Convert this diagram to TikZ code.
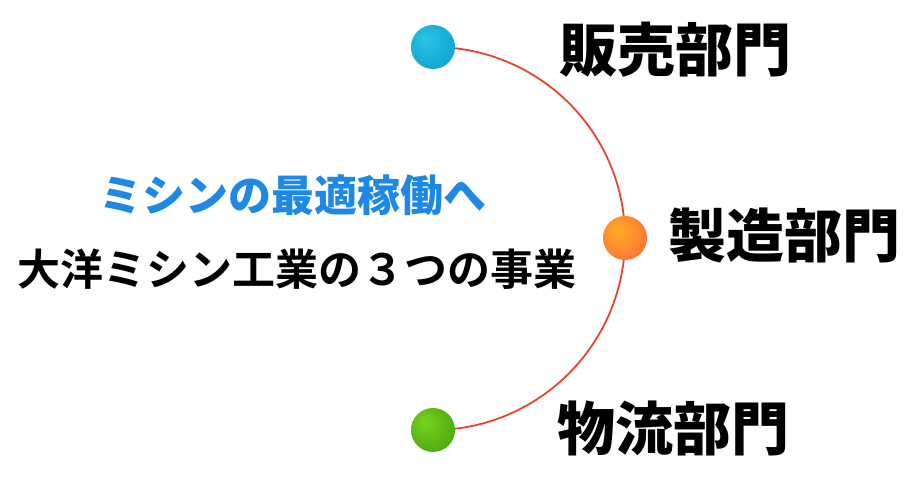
\documentclass[tikz,border=0pt]{standalone}
\usepackage{fontspec}
\newfontfamily\cjk{Noto Sans CJK JP}[BoldFont={Noto Sans CJK JP Bold}]
\newfontfamily\cjkblack{Noto Sans CJK JP Black}
\definecolor{arcred}{HTML}{E8452C}
\definecolor{titleblue}{HTML}{1E88E5}
\definecolor{bA}{HTML}{2CC6E6}\definecolor{bB}{HTML}{1AB2DA}\definecolor{bC}{HTML}{178FC0}
\definecolor{oA}{HTML}{FFAE22}\definecolor{oB}{HTML}{FF8A30}\definecolor{oC}{HTML}{F04E48}
\definecolor{gA}{HTML}{7AD620}\definecolor{gB}{HTML}{5CB816}\definecolor{gC}{HTML}{3A9410}
\pgfdeclareradialshading{blueball}{\pgfpoint{-10bp}{10bp}}{color(0bp)=(bA); color(18bp)=(bB); color(50bp)=(bC)}
\pgfdeclareradialshading{orangeball}{\pgfpoint{-10bp}{10bp}}{color(0bp)=(oA); color(20bp)=(oB); color(50bp)=(oC)}
\pgfdeclareradialshading{greenball}{\pgfpoint{-10bp}{10bp}}{color(0bp)=(gA); color(20bp)=(gB); color(50bp)=(gC)}
\tikzset{
  ball/.style={circle, minimum size=44pt, inner sep=0pt},
  dept/.style={font=\cjkblack\fontsize{58}{58}\selectfont, inner sep=0pt, text=black},
  conn/.style={draw=arcred, line width=1.8pt},
}
\begin{document}
\begin{tikzpicture}[x=1pt,y=-1pt]
\useasboundingbox (0,0) rectangle (916,478);
\node[ball] (b) at (433,47) {};
\node[ball] (o) at (625,238) {};
\node[ball] (g) at (433,430) {};
\draw[conn] (b.center) .. controls +(106,0) and +(0,-105.5) .. (o.center)
                       .. controls +(0,105.5) and +(106,0) .. (g.center);
\shade[shading=blueball] (b.center) circle (22pt);
\shade[shading=orangeball] (o.center) circle (22pt);
\shade[shading=greenball] (g.center) circle (22pt);
\node[dept] (t1) at (675,50) {販売部門};
\node[dept] (t2) at (784,236) {製造部門};
\node[dept] (t3) at (673,428) {物流部門};
\node[font=\cjkblack\fontsize{43}{43}\selectfont, text=titleblue, inner sep=0pt] (s1) at (293,195) {ミシンの最適稼働へ};
\node[font=\cjk\bfseries\fontsize{43}{43}\selectfont, text=black, inner sep=0pt] (s2) at (297,269) {大洋ミシン工業の３つの事業};
\end{tikzpicture}
\end{document}
